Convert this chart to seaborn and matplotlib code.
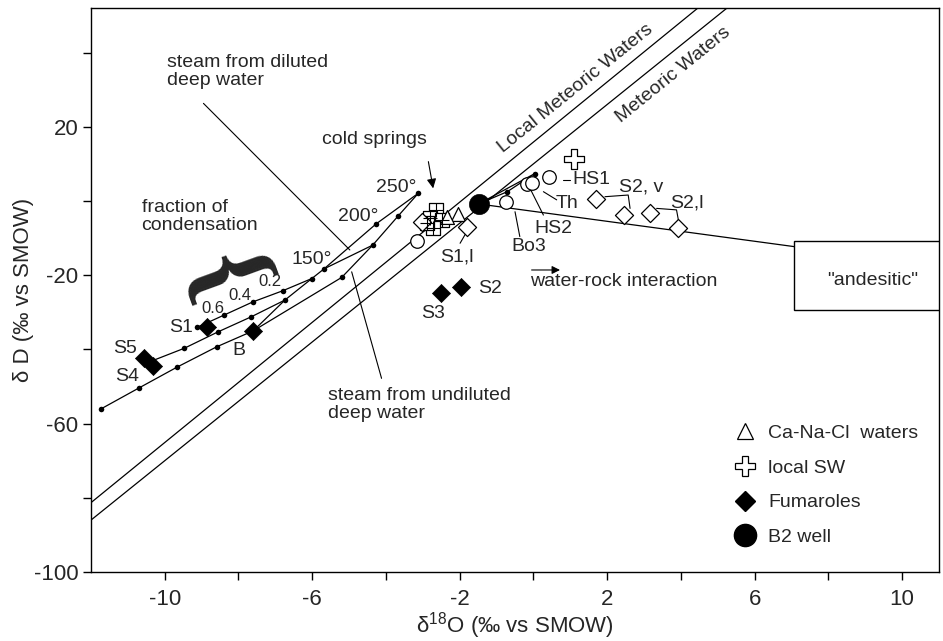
import matplotlib
matplotlib.use("Agg")
import matplotlib.pyplot as plt
import seaborn as sns
from matplotlib.lines import Line2D
from matplotlib.patches import Rectangle
from matplotlib.ticker import FixedLocator

sns.set_theme(style="white")
plt.rcParams["font.family"] = ["Liberation Sans", "DejaVu Sans"]
plt.rcParams["mathtext.fontset"] = "custom"
plt.rcParams["mathtext.rm"] = "Liberation Sans"
plt.rcParams["mathtext.it"] = "Liberation Sans:italic"
plt.rcParams["mathtext.bf"] = "Liberation Sans:bold"
plt.rcParams["axes.unicode_minus"] = False

# ---------------- data (δ18O, δD) ----------------
gmwl_x = [-12.0, 5.25]
gmwl_y = [-86.0, 52.0]
lmwl_x = [-12.0, 4.46]
lmwl_y = [-81.3, 52.0]

sep_dil_x = [-3.12, -4.27, -5.68]
sep_dil_y = [2.1, -6.2, -18.3]
sep_und_x = [-3.12, -3.67, -4.36, -5.20]
sep_und_y = [2.1, -4.05, -11.9, -20.6]
link1_x = [-4.36, -5.68]
link1_y = [-11.9, -18.3]
cond1_x = [-5.68, -6.01, -6.80, -7.61, -8.38, -9.13]
cond1_y = [-18.3, -20.9, -24.2, -27.2, -30.7, -34.1]
cond2_x = [-6.01, -6.74, -7.65, -8.56, -9.47, -10.45]
cond2_y = [-20.9, -26.7, -31.2, -35.3, -39.7, -43.5]
link2_x = [-6.74, -7.60]
link2_y = [-26.7, -35.0]
cond3_x = [-5.20, -7.60, -8.59, -9.67, -10.70, -11.74]
cond3_y = [-20.6, -35.0, -39.3, -44.8, -50.4, -56.1]
b2line_x = [-1.49, -0.71, 0.04, -1.49]
b2line_y = [-0.8, 2.5, 7.4, -0.8]
andes_line_x = [-1.49, 7.07]
andes_line_y = [-0.8, -12.3]

dots_x = [-3.12, -3.67, -4.27, -4.36, -5.68, -6.01, -5.20, -6.80, -6.74, -7.61,
          -7.65, -8.38, -8.56, -9.13, -8.59, -9.47, -9.67, -10.70, -11.74, -0.71, 0.04]
dots_y = [2.1, -4.05, -6.2, -11.9, -18.3, -20.9, -20.6, -24.2, -26.7, -27.2,
          -31.2, -30.7, -35.3, -34.1, -39.3, -39.7, -44.8, -50.4, -56.1, 2.5, 7.4]

fum_x = [-8.86, -7.60, -10.55, -10.32, -2.50, -1.97]
fum_y = [-34.1, -35.0, -42.3, -44.6, -24.9, -23.3]
b2_x = [-1.49]
b2_y = [-0.8]
sw_x = [1.11]
sw_y = [11.2]
circ_x = [0.43, -0.17, -0.03, -0.74, -3.15]
circ_y = [6.5, 4.6, 4.9, -0.2, -10.7]
odia_x = [1.70, 2.46, 3.16, 3.93, -1.81, -3.03]
odia_y = [0.4, -3.8, -3.3, -7.2, -6.9, -5.6]
tri_x = [-2.05, -2.35]
tri_y = [-3.6, -4.2]
cold_x = [-2.64, -2.81, -2.49, -2.72, -2.90]
cold_y = [-2.4, -4.7, -5.1, -7.4, -6.0]

point_labels = ["S1", "S5", "S4", "B", "S3", "S2", "S1,l", "Bo3", "HS2", "Th", "HS1", "S2, v", "S2,l",
                "150°", "200°", "250°"]
point_lab_x = [-9.55, -11.08, -11.03, -7.99, -2.73, -1.18, -2.08, -0.14, 0.54, 0.90, 1.58, 2.93, 4.15,
               -6.01, -4.75, -3.71]
point_lab_y = [-34.1, -39.7, -47.4, -40.2, -30.3, -23.5, -15.0, -12.3, -7.4, -0.6, 5.7, 3.7, -0.6,
               -15.7, -4.2, 3.7]
frac_labels = ["0.6", "0.4", "0.2"]
frac_x = [-8.70, -7.96, -7.16]
frac_y = [-28.9, -25.6, -21.6]

leaders = [
    ([0.80, 0.99], [5.7, 5.7]),
    ([0.27, 0.63], [2.5, 0.3]),
    ([-0.14, 0.27], [4.3, -3.8]),
    ([-0.50, -0.37], [-2.9, -9.6]),
    ([-1.81, -1.99], [-8.3, -11.4]),
    ([1.94, 2.57, 2.62], [1.15, 1.6, -2.0]),
    ([3.34, 3.88, 3.93], [-2.0, -2.4, -5.1]),
    ([-8.95, -4.98], [26.3, -13.2]),
    ([-4.12, -4.93], [-47.8, -19.1]),
]

x_major = [-10, -6, -2, 2, 6, 10]
x_minor = [-8, -4, 0, 4, 8]
y_major = [20, -20, -60, -100]
y_minor = [40, 0, -40, -80]

# ---------------- figure ----------------
fig = plt.figure(figsize=(9.43, 6.41), dpi=100)
ax = fig.add_axes([0.0965, 0.1076, 0.8993, 0.8799])
ax.set_xlim(-12, 11)
ax.set_ylim(-100, 52)

lw = 0.9
for xs, ys in [(gmwl_x, gmwl_y), (lmwl_x, lmwl_y), (sep_dil_x, sep_dil_y), (sep_und_x, sep_und_y),
               (link1_x, link1_y), (cond1_x, cond1_y), (cond2_x, cond2_y), (link2_x, link2_y),
               (cond3_x, cond3_y), (b2line_x, b2line_y), (andes_line_x, andes_line_y)]:
    sns.lineplot(x=xs, y=ys, sort=False, estimator=None, color="black", linewidth=lw, ax=ax, legend=False)
for xs, ys in leaders:
    sns.lineplot(x=xs, y=ys, sort=False, estimator=None, color="black", linewidth=0.8, ax=ax, legend=False)

sns.scatterplot(x=dots_x, y=dots_y, marker="o", s=16, color="black", edgecolor="black", linewidth=0, ax=ax, zorder=4)
sns.scatterplot(x=cold_x, y=cold_y, marker="s", s=90, color="white", edgecolor="black", linewidth=0.9, ax=ax, zorder=4)
sns.scatterplot(x=cold_x, y=cold_y, marker="+", s=90, color="black", linewidth=0.8, ax=ax, zorder=5)
sns.scatterplot(x=tri_x, y=tri_y, marker="^", s=100, color="white", edgecolor="black", linewidth=0.9, ax=ax, zorder=4)
sns.scatterplot(x=odia_x, y=odia_y, marker="D", s=85, color="white", edgecolor="black", linewidth=0.9, ax=ax, zorder=4)
sns.scatterplot(x=circ_x, y=circ_y, marker="o", s=95, color="white", edgecolor="black", linewidth=0.9, ax=ax, zorder=4)
sns.scatterplot(x=sw_x, y=sw_y, marker="P", s=200, color="white", edgecolor="black", linewidth=0.9, ax=ax, zorder=4)
sns.scatterplot(x=fum_x, y=fum_y, marker="D", s=85, color="black", edgecolor="black", linewidth=0.5, ax=ax, zorder=5)
sns.scatterplot(x=b2_x, y=b2_y, marker="o", s=210, color="black", edgecolor="black", linewidth=0.5, ax=ax, zorder=5)

# andesitic box
ax.add_patch(Rectangle((7.07, -29.5), 3.93, 18.8, fill=True, facecolor="white", edgecolor="black", lw=1.0, zorder=3))
ax.text(9.2, -21.3, '"andesitic"', fontsize=14, ha="center", va="center", zorder=6)

# point labels
for t, x, y in zip(point_labels, point_lab_x, point_lab_y):
    ax.text(x, y, t, fontsize=14, ha="center", va="center", zorder=6)
for t, x, y in zip(frac_labels, frac_x, frac_y):
    ax.text(x, y, t, fontsize=12, ha="center", va="center", zorder=6)

# descriptive texts
ax.text(-9.95, 34.9, "steam from diluted\ndeep water", fontsize=14, ha="left", va="center", linespacing=1.1)
ax.text(-10.63, -4.2, "fraction of\ncondensation", fontsize=14, ha="left", va="center", linespacing=1.1)
ax.text(-5.56, -54.8, "steam from undiluted\ndeep water", fontsize=14, ha="left", va="center", linespacing=1.1)
ax.text(-4.30, 16.6, "cold springs", fontsize=14, ha="center", va="center")
ax.text(-0.1, -21.7, "water-rock interaction", fontsize=14, ha="left", va="center")
ax.annotate("", xy=(-2.72, 3.4), xytext=(-2.85, 10.6),
            arrowprops=dict(arrowstyle="-|>", color="black", lw=0.8, mutation_scale=14, shrinkA=0, shrinkB=0))
ax.annotate("", xy=(0.72, -18.6), xytext=(-0.05, -18.6),
            arrowprops=dict(arrowstyle="-|>", color="black", lw=0.8, mutation_scale=12, shrinkA=0, shrinkB=0))

# brace
ax.text(-8.45, -20.5, "{", fontsize=80, rotation=-70, ha="center", va="center",
        family=["Liberation Serif"], fontweight="bold")

# meteoric line labels
ax.text(1.13, 30.4, "Local Meteoric Waters", fontsize=14, rotation=39, ha="center", va="center",
        rotation_mode="anchor")
ax.text(3.80, 34.0, "Meteoric Waters", fontsize=14, rotation=39, ha="center", va="center",
        rotation_mode="anchor")

# axes styling
ax.xaxis.set_major_locator(FixedLocator(x_major))
ax.xaxis.set_minor_locator(FixedLocator(x_minor))
ax.yaxis.set_major_locator(FixedLocator(y_major))
ax.yaxis.set_minor_locator(FixedLocator(y_minor))
ax.tick_params(axis="both", which="both", direction="out", length=6, width=1, color="black",
               bottom=True, left=True, top=False, right=False)
ax.tick_params(axis="x", which="major", labelsize=16, pad=6)
ax.tick_params(axis="y", which="major", labelsize=16, pad=3)
for sp in ax.spines.values():
    sp.set_color("black")
    sp.set_linewidth(1.0)
ax.set_xlabel("δ$^{18}$O (‰ vs SMOW)", fontsize=16, labelpad=0)
ax.set_ylabel("δ D (‰ vs SMOW)", fontsize=16, labelpad=0)

# legend
handles = [
    Line2D([], [], marker="^", ls="none", mfc="white", mec="black", ms=12, mew=0.9),
    Line2D([], [], marker="P", ls="none", mfc="white", mec="black", ms=14, mew=0.9),
    Line2D([], [], marker="D", ls="none", mfc="black", mec="black", ms=10),
    Line2D([], [], marker="o", ls="none", mfc="black", mec="black", ms=16),
]
labels = ["Ca-Na-Cl  waters", "local SW", "Fumaroles", "B2 well"]
ax.legend(handles, labels, loc="upper left", bbox_to_anchor=(0.757, 0.262), frameon=False,
          fontsize=14, handlelength=1.2, handletextpad=0.6, labelspacing=0.88, borderpad=0,
          borderaxespad=0)

fig.savefig("out.png", dpi=100)
